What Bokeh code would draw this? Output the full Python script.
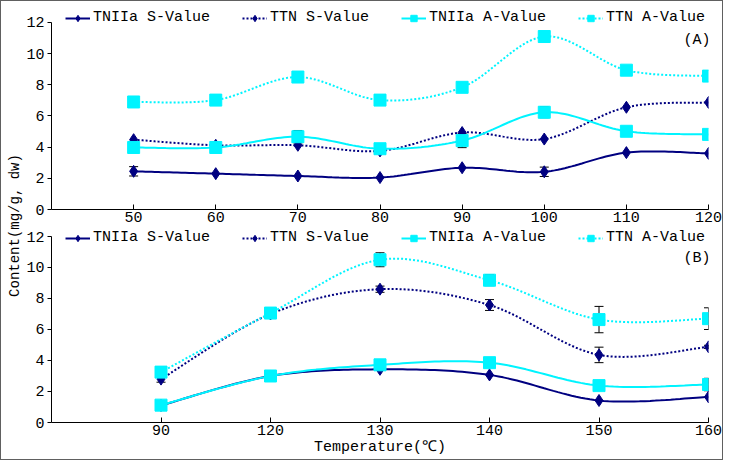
import math
from bokeh.plotting import figure
from bokeh.models import (Range1d, FixedTicker, Legend, LegendItem, Label,
                          Whisker, ColumnDataSource, TeeHead)
from bokeh.layouts import row, column
from bokeh.embed import file_html
from bokeh.resources import INLINE
from bokeh.core.properties import value

# ---------------- data ----------------
series_names = ["TNIIa S-Value", "TTN S-Value", "TNIIa A-Value", "TTN A-Value"]

temps_a = ["50", "60", "70", "80", "90", "100", "110", "120"]
a_tniia_s = [2.45, 2.30, 2.15, 2.05, 2.68, 2.42, 3.65, 3.60]
a_tniia_s_err = [0.30, 0, 0, 0, 0, 0.30, 0, 0]
a_ttn_s = [4.48, 4.12, 4.12, 3.76, 4.94, 4.52, 6.56, 6.87]
a_ttn_s_err = [0, 0, 0, 0, 0, 0, 0, 0]
a_tniia_a = [3.98, 3.98, 4.67, 3.90, 4.42, 6.24, 5.02, 4.82]
a_tniia_a_err = [0, 0, 0.40, 0, 0.45, 0.35, 0, 0]
a_ttn_a = [6.90, 7.02, 8.50, 7.02, 7.84, 11.10, 8.94, 8.56]
a_ttn_a_err = [0, 0, 0, 0, 0, 0, 0, 0]

temps_b = ["90", "120", "130", "140", "150", "160"]
b_tniia_s = [1.10, 3.00, 3.43, 3.07, 1.42, 1.65]
b_tniia_s_err = [0, 0, 0, 0, 0, 0]
b_ttn_s = [2.80, 7.00, 8.60, 7.58, 4.36, 4.88]
b_ttn_s_err = [0.20, 0, 0.20, 0.35, 0.50, 0.10]
b_tniia_a = [1.12, 3.00, 3.72, 3.86, 2.38, 2.45]
b_tniia_a_err = [0, 0, 0, 0, 0.30, 0.40]
b_ttn_a = [3.25, 7.06, 10.50, 9.18, 6.64, 6.70]
b_ttn_a_err = [0.30, 0, 0.45, 0.35, 0.85, 0.70]

y_ticks = [0, 2, 4, 6, 8, 10, 12]

NAVY = "#000080"
CYAN = "#00f4ff"
FONT = "Liberation Mono"


def smooth(xs, ys, n=24):
    """Catmull-Rom smoothing of the connecting line (Excel-like smoothed line)."""
    px = [xs[0]] + list(xs) + [xs[-1]]
    py = [ys[0]] + list(ys) + [ys[-1]]
    ox, oy = [], []
    for i in range(1, len(px) - 2):
        x0, x1, x2, x3 = px[i - 1], px[i], px[i + 1], px[i + 2]
        y0, y1, y2, y3 = py[i - 1], py[i], py[i + 1], py[i + 2]
        c1x, c1y = x1 + (x2 - x0) / 6, y1 + (y2 - y0) / 6
        c2x, c2y = x2 - (x3 - x1) / 6, y2 - (y3 - y1) / 6
        for k in range(n):
            t = k / n
            a, b, c, d = (1 - t) ** 3, 3 * (1 - t) ** 2 * t, 3 * (1 - t) * t ** 2, t ** 3
            ox.append(a * x1 + b * c1x + c * c2x + d * x2)
            oy.append(a * y1 + b * c1y + c * c2y + d * y2)
    ox.append(xs[-1])
    oy.append(ys[-1])
    return ox, oy


def make_panel(cats, series, errs, height, top, bottom, y_end, tag, tag_y,
               legend_y, xlabel=None):
    n = len(cats)
    xs = list(range(n))
    p = figure(width=699, height=height, output_backend="svg", toolbar_location=None,
               x_range=Range1d(-1, n - 1), y_range=Range1d(0, y_end),
               min_border_left=25, min_border_right=14, min_border_top=top,
               min_border_bottom=bottom)
    p.outline_line_color = None
    p.grid.visible = False
    p.background_fill_color = "white"
    p.border_fill_color = "white"

    p.xaxis.ticker = FixedTicker(ticks=xs)
    p.xaxis.major_label_overrides = {i: c for i, c in enumerate(cats)}
    p.xaxis.major_tick_in = 5
    p.xaxis.major_tick_out = 0
    p.yaxis.ticker = FixedTicker(ticks=y_ticks)
    p.yaxis.bounds = (0, 12)
    p.yaxis.major_tick_in = 0
    p.yaxis.major_tick_out = 4
    for ax in (p.xaxis, p.yaxis):
        ax.minor_tick_line_color = None
        ax.axis_line_color = "black"
        ax.major_tick_line_color = "black"
        ax.major_label_text_font = FONT
        ax.major_label_text_font_size = "15px"
        ax.major_label_text_color = "black"
    p.xaxis.major_label_standoff = 2
    p.yaxis.major_label_standoff = 3
    if xlabel:
        p.xaxis.axis_label = xlabel
        p.xaxis.axis_label_text_font = FONT
        p.xaxis.axis_label_text_font_size = "15px"
        p.xaxis.axis_label_text_font_style = "normal"
        p.xaxis.axis_label_text_color = "black"
        p.xaxis.axis_label_standoff = 1

    styles = [(NAVY, "solid", "diamond", 12), (NAVY, "2 2", "diamond", 12),
              (CYAN, "solid", "square", 12), (CYAN, "2 2", "square", 12)]
    items = []
    for name, ys, er, (col, dash, mk, sz) in zip(series_names, series, errs, styles):
        sx, sy = smooth(xs, ys)
        lr = p.line(sx, sy, line_color=col, line_width=2, line_dash=dash)
        src = ColumnDataSource(dict(x=[i for i in xs if er[i] > 0],
                                    lo=[ys[i] - er[i] for i in xs if er[i] > 0],
                                    hi=[ys[i] + er[i] for i in xs if er[i] > 0]))
        mr = p.scatter(xs, ys, marker=mk, size=sz, fill_color=col, line_color=col)
        wk = Whisker(source=src, base="x", lower="lo", upper="hi",
                     line_color="black", line_width=1,
                     upper_head=TeeHead(size=9, line_color="black", line_width=1),
                     lower_head=TeeHead(size=9, line_color="black", line_width=1))
        p.add_layout(wk)
        items.append(LegendItem(label=name, renderers=[lr, mr]))

    lg = Legend(items=items, orientation="horizontal", location=(14, legend_y),
                glyph_width=25, glyph_height=16, label_height=16, label_standoff=3,
                spacing=32, padding=0, margin=0, border_line_alpha=0,
                background_fill_alpha=0, label_text_font=FONT,
                label_text_font_size="15px", label_text_color="black")
    p.add_layout(lg)

    p.add_layout(Label(x=n - 1, y=tag_y, text=tag, text_align="right",
                       text_baseline="middle", x_offset=2, text_font=FONT,
                       text_font_size="15px", text_color="black"))
    return p


p1 = make_panel(temps_a, [a_tniia_s, a_ttn_s, a_tniia_a, a_ttn_a],
                [a_tniia_s_err, a_ttn_s_err, a_tniia_a_err, a_ttn_a_err],
                height=229, top=7, bottom=21, y_end=12.898,
                tag="(A)", tag_y=10.85, legend_y=183)
p2 = make_panel(temps_b, [b_tniia_s, b_ttn_s, b_tniia_a, b_ttn_a],
                [b_tniia_s_err, b_ttn_s_err, b_tniia_a_err, b_ttn_a_err],
                height=229, top=0, bottom=37, y_end=12.387,
                tag="(B)", tag_y=10.6, legend_y=176,
                xlabel="Temperature(℃)")

lab = figure(width=22, height=458, output_backend="svg", toolbar_location=None,
             x_range=Range1d(0, 1), y_range=Range1d(0, 458),
             min_border=0)
lab.axis.visible = False
lab.grid.visible = False
lab.outline_line_color = None
lab.text(x=[0.62], y=[234], text=["Content(mg/g, dw)"], angle=math.pi / 2,
         text_align="center", text_baseline="middle", text_font=value(FONT),
         text_font_size="14px", text_color="black")

layout = row(lab, column(p1, p2), styles={"border": "1px solid #606060"})

open("out.html", "w").write(file_html(layout, INLINE))
